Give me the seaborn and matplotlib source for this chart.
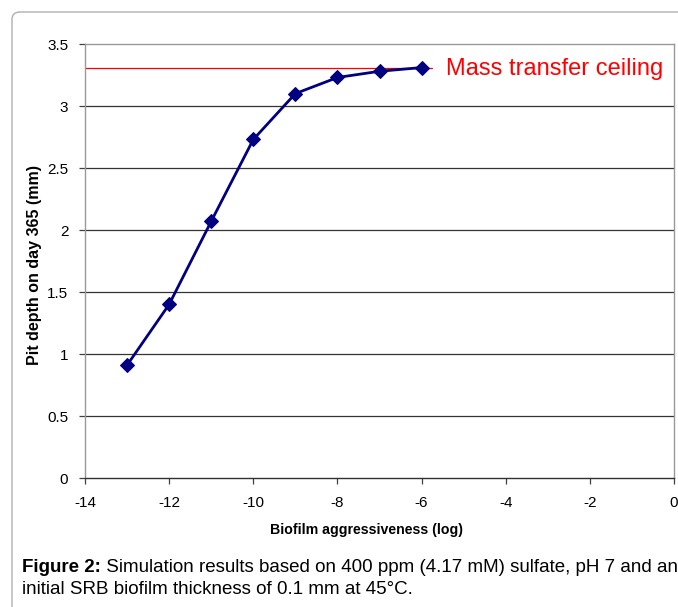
import matplotlib
matplotlib.use("Agg")
import matplotlib.pyplot as plt
import seaborn as sns
import pandas as pd
from matplotlib.patches import FancyBboxPatch

aggressiveness = [-13, -12, -11, -10, -9, -8, -7, -6]
pit_depth = [0.91, 1.40, 2.07, 2.73, 3.10, 3.23, 3.28, 3.31]
ceiling_value = 3.31
ceiling_x = [-14, -5.75]
x_ticks = [-14, -12, -10, -8, -6, -4, -2, 0]
y_ticks = [0, 0.5, 1, 1.5, 2, 2.5, 3, 3.5]
y_tick_labels = ["0", "0.5", "1", "1.5", "2", "2.5", "3", "3.5"]

sns.set_style("white")
plt.rcParams['font.family'] = ['Liberation Sans', 'DejaVu Sans']
plt.rcParams['text.color'] = 'black'

fig = plt.figure(figsize=(6.78, 6.07), dpi=100)
ax = fig.add_axes([85/678, 1-478/607, (674-85)/678, (478-44)/607])

# outer border
border = FancyBboxPatch((12/678, -0.1), 1.0, 1.1 - 12/607,
                        boxstyle="round,pad=0,rounding_size=0.012",
                        transform=fig.transFigure, fill=False,
                        edgecolor="#b0b0b0", linewidth=1.0, clip_on=False)
fig.patches.append(border)

df = pd.DataFrame({"x": aggressiveness, "y": pit_depth})

for yv in y_ticks[1:-1]:
    ax.axhline(yv, color="#333333", linewidth=0.9, zorder=1)

ax.plot(ceiling_x, [ceiling_value, ceiling_value], color="red", linewidth=0.9, zorder=2)

sns.lineplot(data=df, x="x", y="y", ax=ax, color="#000080", linewidth=2.0,
             marker="D", markersize=7, markeredgecolor="#000080",
             markerfacecolor="#000080", zorder=3)

ax.text(-5.42, ceiling_value - 0.01, "Mass transfer ceiling", color="red",
        fontsize=17, va="center", ha="left")

ax.set_xlim(-14, 0)
ax.set_ylim(0, 3.5)
ax.set_xticks(x_ticks)
ax.set_yticks(y_ticks)
ax.set_xticklabels([str(t) for t in x_ticks])
ax.set_yticklabels(y_tick_labels)
ax.tick_params(axis="both", labelsize=11, direction="out", length=4,
               width=0.9, color="#404040", labelcolor="black",
               bottom=True, left=True)
ax.tick_params(axis="x", pad=9)
ax.tick_params(axis="y", pad=8)

for s in ["top", "right", "left"]:
    ax.spines[s].set_color("#999999")
    ax.spines[s].set_linewidth(1.0)
ax.spines["bottom"].set_color("#303030")
ax.spines["bottom"].set_linewidth(1.0)

ax.set_xlabel("Biofilm aggressiveness (log)", fontsize=10.2, fontweight="bold",
              color="black")
ax.xaxis.set_label_coords((366-85)/589, -(523-478)/434)
ax.set_ylabel("Pit depth on day 365 (mm)", fontsize=11.5, fontweight="bold",
              color="black")
ax.yaxis.set_label_coords(-(85-42)/589, (478-265)/434)

fs = 13.5
y1 = 1-567/607
t1 = fig.text(22/678, y1, "Figure 2:", fontsize=fs, fontweight="bold",
              va="center", ha="left")
fig.canvas.draw()
bb = t1.get_window_extent(renderer=fig.canvas.get_renderer())
x_after = bb.x1 / fig.bbox.width
fig.text(x_after, y1, " Simulation results based on 400 ppm (4.17 mM) sulfate, pH 7 and an",
         fontsize=fs, va="center", ha="left")
fig.text(22/678, 1-589/607, "initial SRB biofilm thickness of 0.1 mm at 45\u00b0C.",
         fontsize=fs, va="center", ha="left")

fig.savefig("out.png", dpi=100)
